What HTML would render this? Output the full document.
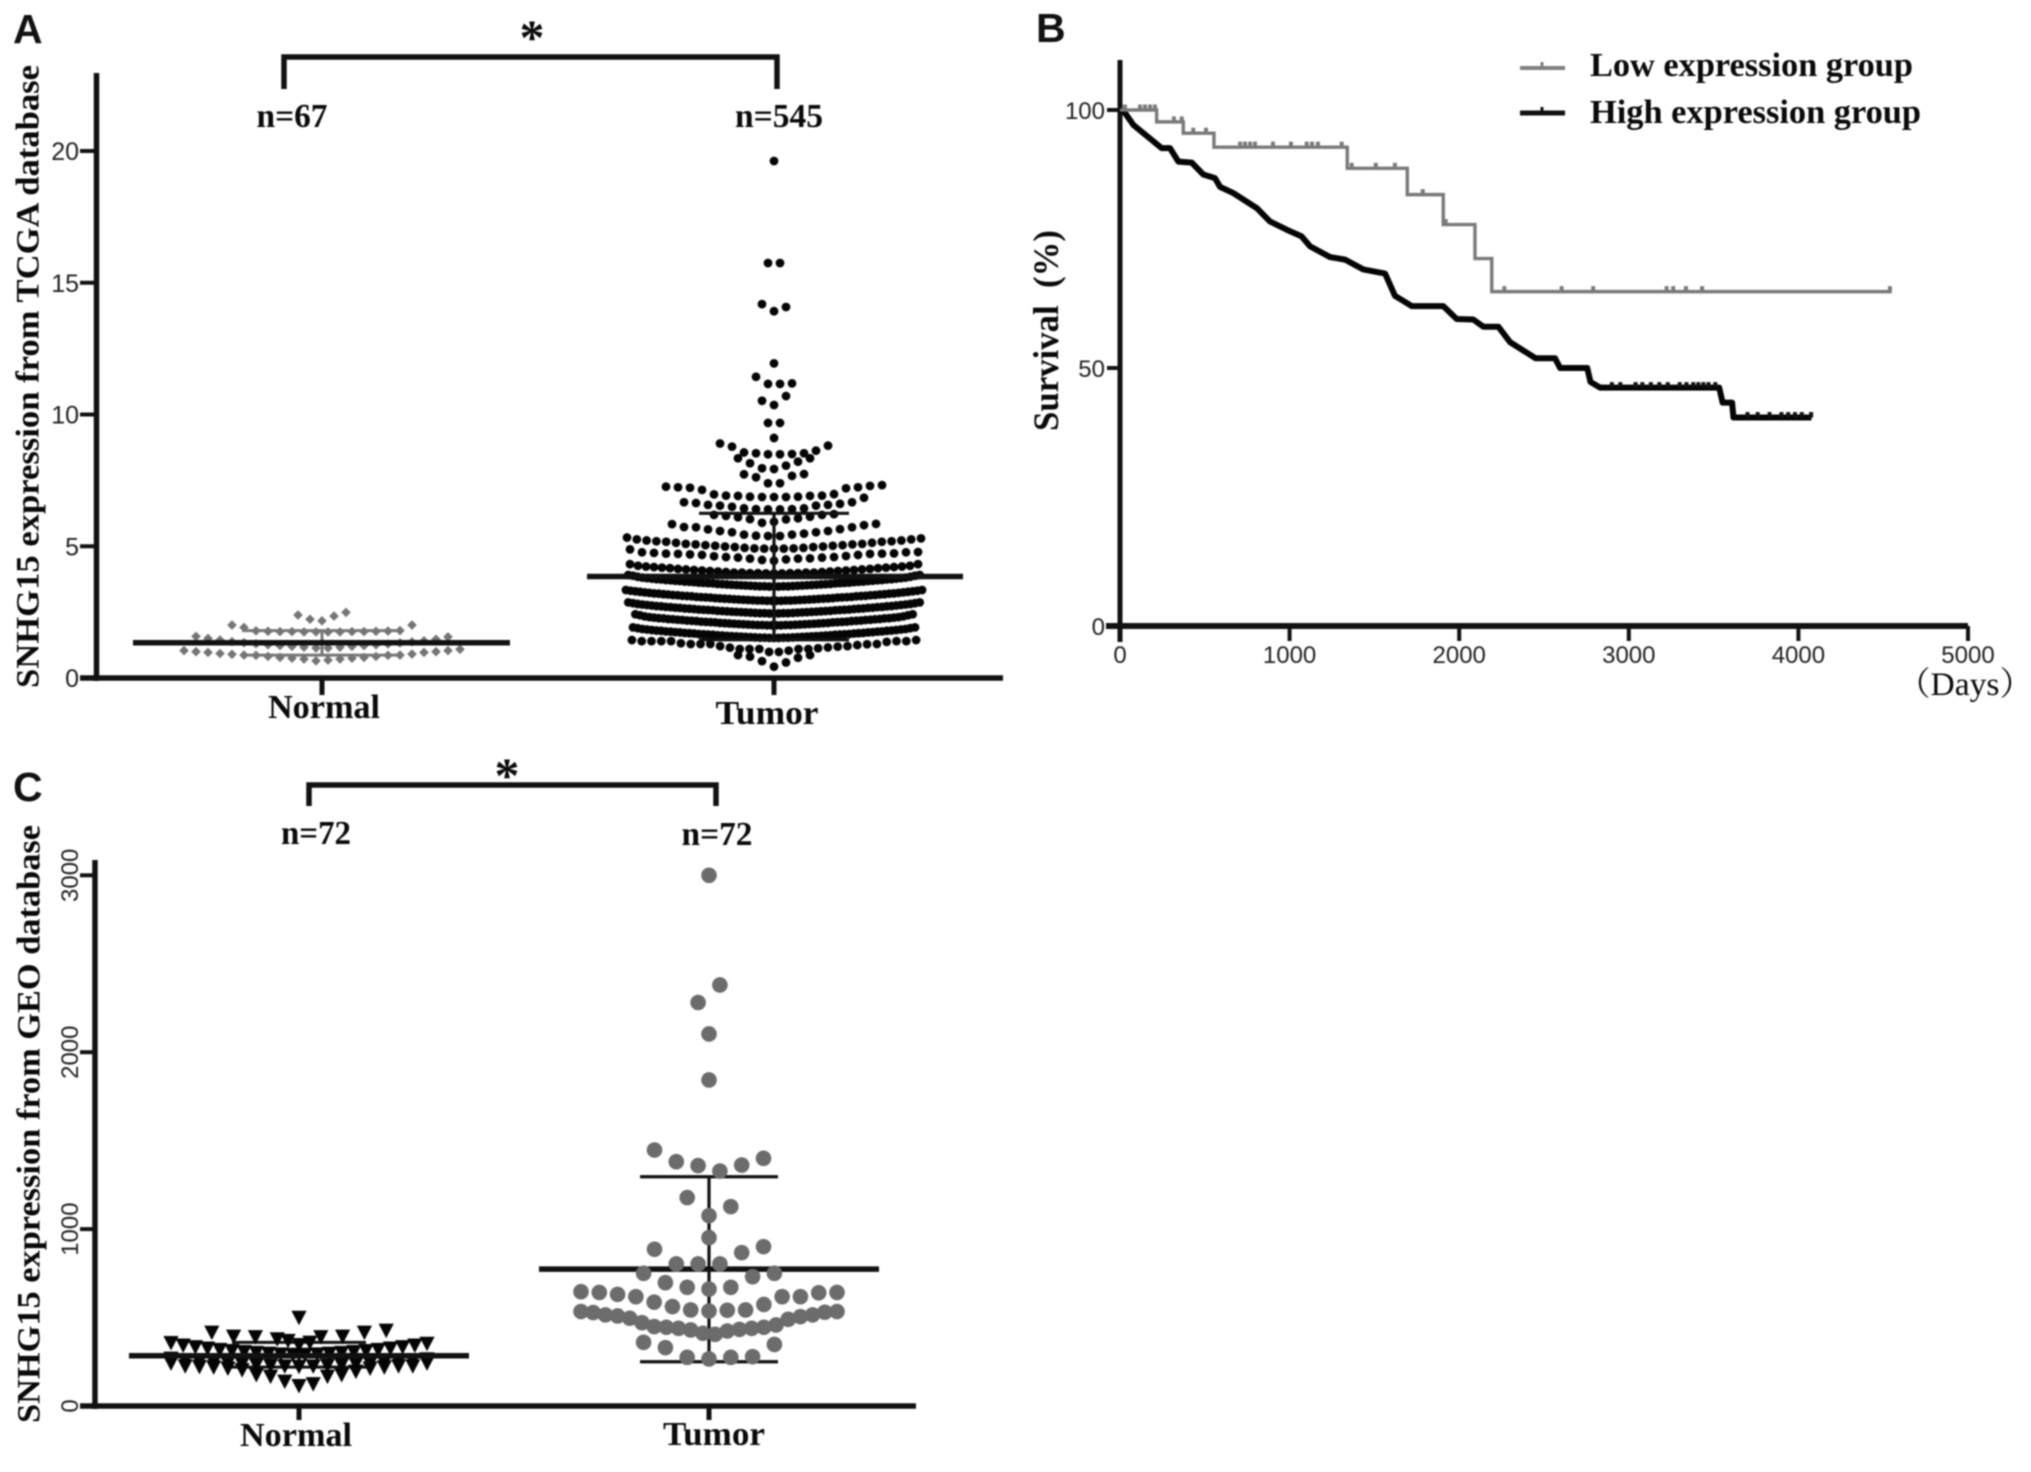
<!DOCTYPE html>
<html lang="en">
<head>
<meta charset="utf-8">
<title>SNHG15 expression and survival</title>
<style>
html,body{margin:0;padding:0;background:#fff;}
svg{display:block;filter:blur(0.8px);}
.serif{font-family:"Liberation Serif","Noto Serif CJK SC",serif;font-weight:bold;fill:#0a0a0a;}
.sans{font-family:"Liberation Sans",sans-serif;fill:#222;}
.letter{font-family:"Liberation Sans",sans-serif;font-weight:bold;font-size:41px;fill:#111;}
</style>
</head>
<body>
<svg id="figure" xmlns="http://www.w3.org/2000/svg" width="2031" height="1472" viewBox="0 0 2031 1472">
  <rect x="0" y="0" width="2031" height="1472" fill="#fff"/>

  <!-- Panel A static labels -->
  <text class="letter" x="13" y="43">A</text>
  <path d="M284 89V57H777V89" fill="none" stroke="#111" stroke-width="5.5"/>
  <text class="serif" x="532" y="54" font-size="50" text-anchor="middle">*</text>
  <text class="serif" x="292" y="127" font-size="34" text-anchor="middle" textLength="71" lengthAdjust="spacingAndGlyphs">n=67</text>
  <text class="serif" x="779" y="127" font-size="34" text-anchor="middle" textLength="88" lengthAdjust="spacingAndGlyphs">n=545</text>
  <text class="serif" font-size="33" transform="translate(38.5 688) rotate(-90)" textLength="623" lengthAdjust="spacingAndGlyphs">SNHG15 expression from TCGA database</text>
  <text class="serif" x="324" y="718" font-size="34" text-anchor="middle" textLength="112" lengthAdjust="spacingAndGlyphs">Normal</text>
  <text class="serif" x="767" y="724" font-size="34" text-anchor="middle" textLength="103" lengthAdjust="spacingAndGlyphs">Tumor</text>

  <!-- Panel B static labels -->
  <text class="letter" x="1036" y="42">B</text>
  <text class="serif" font-size="36" transform="translate(1058 431) rotate(-90)" textLength="201" lengthAdjust="spacingAndGlyphs" xml:space="preserve">Survival  (%)</text>
  <text class="serif" style="font-weight:normal" x="1897" y="695" font-size="33" textLength="136" lengthAdjust="spacingAndGlyphs">（Days）</text>
  <line x1="1520" y1="68" x2="1565" y2="68" stroke="#808080" stroke-width="4"/>
  <line x1="1542" y1="62" x2="1542" y2="68" stroke="#808080" stroke-width="3"/>
  <text class="serif" x="1590" y="76" font-size="34" textLength="323" lengthAdjust="spacingAndGlyphs">Low expression group</text>
  <line x1="1520" y1="113" x2="1565" y2="113" stroke="#111" stroke-width="5"/>
  <line x1="1542" y1="107" x2="1542" y2="113" stroke="#111" stroke-width="3"/>
  <text class="serif" x="1590" y="123" font-size="34" textLength="331" lengthAdjust="spacingAndGlyphs">High expression group</text>

  <!-- Panel C static labels -->
  <text class="letter" x="13" y="801">C</text>
  <path d="M309 806V785H716V806" fill="none" stroke="#111" stroke-width="5.5"/>
  <text class="serif" x="507" y="792" font-size="50" text-anchor="middle">*</text>
  <text class="serif" x="316" y="844" font-size="34" text-anchor="middle" textLength="70" lengthAdjust="spacingAndGlyphs">n=72</text>
  <text class="serif" x="717" y="845" font-size="34" text-anchor="middle" textLength="71" lengthAdjust="spacingAndGlyphs">n=72</text>
  <text class="serif" font-size="33" transform="translate(39.5 1423) rotate(-90)" textLength="598" lengthAdjust="spacingAndGlyphs">SNHG15 expression from GEO database</text>
  <text class="serif" x="296" y="1446" font-size="34" text-anchor="middle" textLength="112" lengthAdjust="spacingAndGlyphs">Normal</text>
  <text class="serif" x="714" y="1445" font-size="34" text-anchor="middle" textLength="102" lengthAdjust="spacingAndGlyphs">Tumor</text>
</svg>

<script>
/* ---------- Panel A data ---------- */
const ticksA = [0, 5, 10, 15, 20];
const statsNormalA = [0.87, 1.34, 1.80];
const statsTumorA = [1.45, 3.85, 6.25];
const normalABins = [
  [2.17, 2.35, 2.23, 2.49, 2.39],
  [1.75, 1.75, 1.75, 1.75, 1.76, 1.76, 1.76, 1.76, 1.77, 1.77, 1.78, 1.79, 1.80, 1.92, 2.01, 2.01],
  [1.14, 1.14, 1.17, 1.17, 1.20, 1.20, 1.23, 1.23, 1.26, 1.26, 1.29, 1.30, 1.33, 1.34, 1.37, 1.38, 1.41, 1.44, 1.47, 1.50, 1.56, 1.58],
  [0.68, 0.65, 0.72, 0.72, 0.75, 0.75, 0.78, 0.78, 0.82, 0.82, 0.86, 0.86, 0.87, 0.87, 0.91, 0.90, 0.97, 0.93, 1.00, 0.97, 1.04, 1.00, 1.09, 1.04]
];
const tumorABins = [
  [19.62],
  [15.75, 15.75],
  [13.92, 14.08, 14.19],
  [11.94],
  [11.16, 11.16, 11.18, 11.43],
  [10.36, 10.70, 10.52],
  [9.68, 9.68],
  [9.11],
  [8.49, 8.49, 8.50, 8.53, 8.53, 8.56, 8.63, 8.78, 8.82, 8.90],
  [7.93, 8.06, 7.96, 8.21, 8.15, 8.34, 8.34],
  [7.39, 7.39, 7.67, 7.62, 7.74, 7.73],
  [6.87, 6.87, 6.87, 6.88, 6.88, 6.91, 6.91, 6.92, 6.92, 6.98, 6.97, 7.20, 7.14, 7.24, 7.22, 7.29, 7.24, 7.32, 7.26],
  [6.40, 6.40, 6.41, 6.41, 6.44, 6.44, 6.54, 6.50, 6.57, 6.54, 6.61, 6.57, 6.67, 6.64, 6.84, 6.67],
  [5.93, 6.02, 5.89, 6.06, 6.03, 6.12, 6.10, 6.19, 6.15, 6.22, 6.19],
  [5.39, 5.39, 5.44, 5.40, 5.48, 5.44, 5.53, 5.53, 5.58, 5.58, 5.65, 5.64, 5.72, 5.72, 5.80, 5.73, 5.85, 5.84],
  [4.91, 4.91, 4.91, 4.92, 4.92, 4.94, 4.94, 4.97, 4.97, 4.99, 4.99, 5.02, 5.02, 5.04, 5.04, 5.07, 5.07, 5.09, 5.09, 5.13, 5.13, 5.17, 5.17, 5.19, 5.19, 5.22, 5.22, 5.26, 5.26, 5.30, 5.33],
  [4.45, 4.50, 4.48, 4.53, 4.53, 4.54, 4.57, 4.57, 4.59, 4.59, 4.62, 4.63, 4.67, 4.67, 4.69, 4.71, 4.71, 4.72, 4.72, 4.73, 4.75, 4.77, 4.77, 4.78, 4.88],
  [3.97, 3.97, 3.97, 3.98, 3.98, 3.98, 3.98, 4.00, 4.00, 4.00, 4.00, 4.02, 4.02, 4.04, 4.04, 4.06, 4.06, 4.08, 4.08, 4.10, 4.10, 4.12, 4.12, 4.14, 4.14, 4.17, 4.17, 4.19, 4.19, 4.21, 4.21, 4.23, 4.23, 4.26, 4.26, 4.32, 4.32],
  [3.47, 3.47, 3.47, 3.48, 3.48, 3.48, 3.48, 3.49, 3.49, 3.50, 3.50, 3.51, 3.51, 3.52, 3.52, 3.53, 3.53, 3.54, 3.54, 3.55, 3.55, 3.56, 3.56, 3.57, 3.57, 3.59, 3.59, 3.60, 3.60, 3.61, 3.61, 3.62, 3.62, 3.64, 3.64, 3.65, 3.65, 3.66, 3.66, 3.68, 3.68, 3.69, 3.69, 3.71, 3.71, 3.72, 3.72, 3.74, 3.74, 3.75, 3.75, 3.77, 3.77, 3.79, 3.79, 3.81, 3.81, 3.84, 3.84, 3.88, 3.88, 3.91, 3.91],
  [2.93, 2.93, 2.93, 2.93, 2.94, 2.94, 2.94, 2.94, 2.95, 2.95, 2.96, 2.96, 2.97, 2.97, 2.98, 2.98, 2.99, 2.99, 3.00, 3.00, 3.01, 3.01, 3.02, 3.02, 3.03, 3.03, 3.05, 3.05, 3.06, 3.06, 3.07, 3.07, 3.08, 3.08, 3.10, 3.10, 3.11, 3.11, 3.12, 3.12, 3.14, 3.14, 3.15, 3.15, 3.17, 3.17, 3.18, 3.18, 3.20, 3.20, 3.21, 3.21, 3.23, 3.23, 3.25, 3.25, 3.27, 3.27, 3.29, 3.29, 3.31, 3.31, 3.34, 3.34],
  [2.45, 2.45, 2.45, 2.46, 2.46, 2.46, 2.46, 2.47, 2.47, 2.48, 2.48, 2.49, 2.49, 2.50, 2.50, 2.51, 2.51, 2.52, 2.52, 2.53, 2.53, 2.54, 2.54, 2.55, 2.55, 2.57, 2.57, 2.58, 2.58, 2.59, 2.59, 2.60, 2.60, 2.62, 2.62, 2.63, 2.63, 2.64, 2.64, 2.66, 2.66, 2.67, 2.67, 2.69, 2.69, 2.70, 2.70, 2.72, 2.72, 2.73, 2.73, 2.75, 2.75, 2.77, 2.77, 2.79, 2.79, 2.81, 2.81, 2.84, 2.84, 2.87, 2.87],
  [2.00, 2.00, 2.00, 2.00, 2.01, 2.01, 2.01, 2.01, 2.02, 2.02, 2.03, 2.03, 2.04, 2.04, 2.05, 2.05, 2.06, 2.06, 2.07, 2.07, 2.08, 2.08, 2.09, 2.09, 2.11, 2.11, 2.12, 2.12, 2.13, 2.13, 2.14, 2.14, 2.16, 2.16, 2.17, 2.17, 2.18, 2.18, 2.20, 2.20, 2.21, 2.21, 2.23, 2.23, 2.24, 2.24, 2.26, 2.26, 2.27, 2.27, 2.29, 2.29, 2.31, 2.31, 2.34, 2.34, 2.38, 2.38, 2.42, 2.42],
  [1.52, 1.52, 1.52, 1.53, 1.53, 1.53, 1.53, 1.54, 1.54, 1.55, 1.55, 1.56, 1.56, 1.57, 1.57, 1.58, 1.58, 1.59, 1.59, 1.60, 1.60, 1.61, 1.61, 1.62, 1.62, 1.64, 1.64, 1.65, 1.65, 1.66, 1.66, 1.67, 1.67, 1.69, 1.69, 1.70, 1.70, 1.71, 1.71, 1.73, 1.73, 1.74, 1.74, 1.76, 1.76, 1.77, 1.77, 1.79, 1.79, 1.80, 1.80, 1.82, 1.82, 1.84, 1.84, 1.86, 1.86, 1.89, 1.89, 1.92, 1.92],
  [0.99, 0.99, 1.04, 1.10, 1.10, 1.10, 1.10, 1.10, 1.13, 1.15, 1.16, 1.21, 1.19, 1.29, 1.21, 1.29, 1.25, 1.29, 1.28, 1.32, 1.29, 1.40, 1.37, 1.40, 1.40, 1.40, 1.40, 1.40, 1.44, 1.44],
  [0.43, 0.59, 0.64, 0.77, 0.81, 0.87, 0.87]
];

/* ---------- Panel B data ---------- */
const ticksBx = [0, 1000, 2000, 3000, 4000, 5000];
const ticksBy = [0, 50, 100];
const lowDays = [0, 216, 373, 554, 1340, 1694, 1906, 2093, 2192, 4550];
const lowSurvival = [100, 97.7, 95.5, 92.8, 88.7, 83.6, 77.8, 71.2, 64.8, 64.8];
const lowCensorDays = [29, 118, 147, 177, 206, 318, 364, 432, 507, 708, 737, 767, 796, 902, 1008, 1101, 1132, 1167, 1307, 1366, 1508, 1621, 1785, 1920, 2266, 2604, 2790, 3223, 3262, 3337, 3432, 4540];
const highDays = [0, 30, 79, 138, 187, 246, 295, 344, 423, 491, 560, 590, 668, 806, 884, 983, 1071, 1120, 1238, 1327, 1435, 1563, 1621, 1720, 1906, 1985, 2083, 2142, 2231, 2300, 2450, 2565, 2595, 2755, 2774, 2831, 3533, 3553, 3609, 3617, 4077];
const highSurvival = [100, 99.4, 97.1, 95.5, 94.2, 92.6, 92.6, 90, 89.8, 87.5, 86.8, 85.1, 83.9, 81, 78.4, 76.8, 75.5, 73.6, 71.5, 71, 69.1, 68.3, 64, 62, 62, 59.5, 59.4, 58, 58, 55, 51.9, 51.9, 50, 50, 47.3, 46.2, 46.2, 43.3, 43.3, 40.4, 40.4];
const highCensorDays = [2900, 2950, 3040, 3080, 3130, 3180, 3230, 3300, 3340, 3380, 3410, 3440, 3470, 3510, 3700, 3760, 3830, 3900, 3940, 3980, 4020, 4075];

/* ---------- Panel C data ---------- */
const ticksC = [0, 1000, 2000, 3000];
const statsNormalC = [220, 284, 360];
const statsTumorC = [250, 774, 1296];
const normalCBins = [
  [499],
  [345, 389, 377, 392, 389, 415, 392, 426, 415],
  [358, 368],
  [290, 290, 292, 292, 296, 296, 300, 300, 305, 305, 311, 311, 317, 317, 325, 325, 333, 333, 342, 342, 352, 356],
  [222, 224, 224, 228, 228, 232, 232, 236, 236, 240, 240, 245, 245, 250, 250, 256, 256, 264, 268],
  [113, 124, 138, 166, 166, 175, 175, 194, 203, 212, 212, 218, 218, 225, 221, 225, 225, 241, 241]
];
const tumorCBins = [
  [3000],
  [2380, 2281],
  [2103],
  [1843],
  [1328, 1359, 1362, 1381, 1400, 1447],
  [1076, 1127, 1178],
  [952],
  [803, 803, 867, 803, 901, 886],
  [661, 671, 671, 731, 697, 750, 750],
  [537, 541, 543, 543, 562, 574, 587, 618, 618, 618, 631, 640, 642, 642, 646],
  [405, 411, 424, 430, 433, 439, 439, 445, 445, 449, 458, 471, 490, 496, 505, 509, 515, 515, 530, 528, 534, 534],
  [266, 275, 275, 279, 330, 348, 360]
];

/* ---------- Axis functions ---------- */
const xA = { normal: 322, tumor: 774 };
const xC = { normal: 299, tumor: 709 };
function yA(v) { return 678 - v * 26.35; }
function yC(v) { return 1406 - v * 0.1769; }
function xB(d) { return 1120 + d * 0.1696; }
function yB(s) { return 626 - s * 5.16; }

/* ---------- Helpers ---------- */
const svg = document.getElementById('figure');
const NS = 'http://www.w3.org/2000/svg';
function make(tag, attrs) {
  const el = document.createElementNS(NS, tag);
  for (const k in attrs) el.setAttribute(k, attrs[k]);
  svg.appendChild(el);
  return el;
}
function stroke(x1, y1, x2, y2, w, color) {
  return make('line', { x1: x1, y1: y1, x2: x2, y2: y2, stroke: color || '#111', 'stroke-width': w });
}
function swarmOffset(i, n, step) {
  if (n % 2) {
    if (i === 0) return 0;
    return (i % 2 ? 1 : -1) * Math.ceil(i / 2) * step;
  }
  return (i % 2 === 0 ? 1 : -1) * (Math.floor(i / 2) + 0.5) * step;
}
function stepA(n) {
  if (n >= 50) return 4.7;
  if (n >= 35) return 8;
  if (n >= 30) return 9.8;
  return 12;
}
function stepC(n) {
  return Math.min(21.8, 256 / Math.max(n - 1, 1));
}

/* ---------- Panel A ---------- */
const axisAY = stroke(96.5, 73, 96.5, 681, 5.5);


const axisAX = stroke(80, 678, 1003, 678, 5.5);


[xA.normal, xA.tumor].forEach(function (x) {
  const t = stroke(x, 678, x, 695, 5);
  
  
});
ticksA.forEach(function (v) {
  const t = stroke(80, yA(v), 96, yA(v), 4);
  
  
  const l = make('text', { x: 79, y: yA(v) + 9, 'font-size': 25, 'text-anchor': 'end', class: 'sans' });
  l.textContent = v;
  
  
});

function errorBars(cx, stats, scale, capHalf, capW, capColor) {
  const v = stroke(cx, scale(stats[2]), cx, scale(stats[0]), capW, capColor);
  
  
  const hi = stroke(cx - capHalf, scale(stats[2]), cx + capHalf, scale(stats[2]), capW, capColor);
  
  
  const lo = stroke(cx - capHalf, scale(stats[0]), cx + capHalf, scale(stats[0]), capW, capColor);
  
  
}
function meanLine(cx, stats, scale, left, right) {
  const m = stroke(cx - left, scale(stats[1]), cx + right, scale(stats[1]), 5.5);
  
  
}

errorBars(xA.normal, statsNormalA, yA, 80, 3, '#777');
normalABins.forEach(function (bin) {
  bin.forEach(function (v, i) {
    const x = xA.normal + swarmOffset(i, bin.length, 12);
    const y = yA(v);
    const r = 4.8;
    const p = make('polygon', { points: [x, y - r, x + r, y, x, y + r, x - r, y].join(' '), fill: '#757575' });
    
    
  });
});
meanLine(xA.normal, statsNormalA, yA, 189, 188);

tumorABins.forEach(function (bin) {
  bin.forEach(function (v, i) {
    const c = make('circle', { cx: xA.tumor + swarmOffset(i, bin.length, stepA(bin.length)), cy: yA(v), r: 4.4, fill: '#050505' });
    
    
  });
});
errorBars(xA.tumor, statsTumorA, yA, 75, 3.2, '#111');
meanLine(xA.tumor, statsTumorA, yA, 187, 189);

/* ---------- Panel B ---------- */
const axisBY = stroke(1120, 60, 1120, 642, 5);


const axisBX = stroke(1106, 626, 1968, 626, 6);


ticksBx.forEach(function (d) {
  const t = stroke(xB(d), 626, xB(d), 641, 4);
  
  
  const l = make('text', { x: xB(d), y: 663, 'font-size': 24, 'text-anchor': 'middle', class: 'sans' });
  l.textContent = d;
  
  
});
ticksBy.forEach(function (s) {
  const t = stroke(1107, yB(s), 1120, yB(s), 4);
  
  
  const l = make('text', { x: 1105, y: yB(s) + 9, 'font-size': 24, 'text-anchor': 'end', class: 'sans' });
  l.textContent = s;
  
  
});

function stepPath(days, surv) {
  let d = 'M' + xB(days[0]) + ' ' + yB(surv[0]);
  for (let i = 1; i < days.length; i++) {
    d += 'H' + xB(days[i]) + 'V' + yB(surv[i]);
  }
  return d;
}
function linePath(days, surv) {
  return days.map(function (t, i) { return (i ? 'L' : 'M') + xB(t) + ' ' + yB(surv[i]); }).join('');
}
function survivalAt(days, surv, t) {
  let s = surv[0];
  for (let i = 0; i < days.length; i++) if (days[i] <= t) s = surv[i];
  return s;
}
const highCurve = make('path', { d: linePath(highDays, highSurvival), fill: 'none', stroke: '#050505', 'stroke-width': 6, 'stroke-linejoin': 'round' });


highCensorDays.forEach(function (t) {
  const y = yB(survivalAt(highDays, highSurvival, t));
  const m = stroke(xB(t), y - 5.5, xB(t), y, 4);
  
  
});
const lowCurve = make('path', { d: stepPath(lowDays, lowSurvival), fill: 'none', stroke: '#7a7a7a', 'stroke-width': 3.4 });


lowCensorDays.forEach(function (t) {
  const y = yB(survivalAt(lowDays, lowSurvival, t));
  const m = stroke(xB(t), y - 5.5, xB(t), y, 4, '#7a7a7a');
  
  
});

/* ---------- Panel C ---------- */
const axisCY = stroke(95, 860, 95, 1409, 5.5);


const axisCX = stroke(80, 1406, 916, 1406, 5.5);


[xC.normal, xC.tumor].forEach(function (x) {
  const t = stroke(x, 1406, x, 1420, 5);
  
  
});
ticksC.forEach(function (v) {
  const t = stroke(80, yC(v), 95, yC(v), 4);
  
  
  const l = make('text', { 'font-size': 24, 'text-anchor': 'middle', class: 'sans', transform: 'translate(78 ' + yC(v) + ') rotate(-90)' });
  l.textContent = v;
  
  
});

errorBars(xC.normal, statsNormalC, yC, 67, 3, '#111');
normalCBins.forEach(function (bin) {
  bin.forEach(function (v, i) {
    const x = xC.normal + swarmOffset(i, bin.length, stepC(bin.length));
    const y = yC(v);
    const p = make('polygon', { points: [x - 7.6, y - 7, x + 7.6, y - 7, x, y + 7.5].join(' '), fill: '#050505' });
    
    
  });
});
meanLine(xC.normal, statsNormalC, yC, 170, 170);

errorBars(xC.tumor, statsTumorC, yC, 69, 3.2, '#111');
meanLine(xC.tumor, statsTumorC, yC, 170, 170);
tumorCBins.forEach(function (bin) {
  bin.forEach(function (v, i) {
    const c = make('circle', { cx: xC.tumor + swarmOffset(i, bin.length, stepC(bin.length)), cy: yC(v), r: 7.8, fill: '#6c6c6c' });
    
    
  });
});
</script>
</body>
</html>
